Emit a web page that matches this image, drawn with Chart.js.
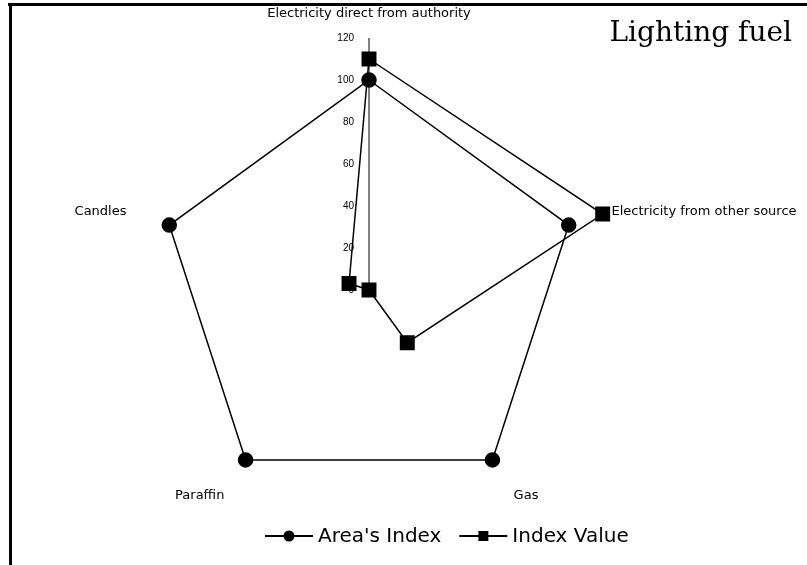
<!DOCTYPE html>
<html>
<head>
<meta charset="utf-8">
<title>Lighting fuel</title>
<script src="https://cdn.jsdelivr.net/npm/chart.js@4.4.0/dist/chart.umd.min.js"></script>
<style>
    html, body { margin: 0; padding: 0; background: #fff; }
</style>
</head>
<body>
<canvas id="lighting_fuel_chart" width="807" height="565"></canvas>
<script>
const lighting_fuel_labels = ["Electricity direct from authority", "Electricity from other source", "Gas", "Paraffin", "Candles"];
const areas_index_data = [100, 100, 100, 100, 100];
const index_value_data = [110, 117, 31, 0, 10];
const lighting_fuel_ticks = [0, 20, 40, 60, 80, 100, 120];
const lighting_fuel_title = "Lighting fuel";

// title, axis names, tick numbers, legend and the scanned frame are drawn here,
// so the radar itself keeps a fixed size
const lighting_fuel_extras =
{
    id: "lighting_fuel_extras",
    beforeDraw(chart)
    {
        const ctx = chart.ctx;
        ctx.save();
        ctx.fillStyle = "#fff";
        ctx.fillRect(0, 0, chart.width, chart.height);
        ctx.fillStyle = "#000";
        ctx.fillRect(8, 3, chart.width - 8, 3);
        ctx.fillRect(9, 3, 3, chart.height - 3);
        ctx.restore();
    },
    afterDraw(chart)
    {
        const ctx = chart.ctx;
        const r = chart.scales.r;
        ctx.save();
        ctx.fillStyle = "#000";

        // axis names round the outer ring
        ctx.font = "13px 'DejaVu Sans', sans-serif";
        const outer = r.getDistanceFromCenterForValue(r.max);
        r._pointLabels.forEach((label, i) =>
        {
            const deg = Math.round(r.getIndexAngle(i) * 180 / Math.PI) % 360;
            let gap = 3;
            if (deg === 0) gap = 18;
            else if (deg > 90 && deg < 270) gap = -6;
            const pos = r.getPointPosition(i, outer + gap);
            ctx.textAlign = (deg === 0 || deg === 180) ? "center" : (deg < 180 ? "left" : "right");
            if (deg === 0) ctx.textBaseline = "bottom";
            else if (deg > 90 && deg < 270) ctx.textBaseline = "top";
            else ctx.textBaseline = "middle";
            ctx.fillText(label, pos.x, pos.y);
        });

        ctx.font = "10px 'Liberation Sans Narrow', 'Liberation Sans', sans-serif";
        ctx.textAlign = "right";
        ctx.textBaseline = "middle";
        r.ticks.forEach(t =>
        {
            ctx.fillText(String(t.value), r.xCenter - 15, r.yCenter - r.getDistanceFromCenterForValue(t.value));
        });

        ctx.font = "28px 'DejaVu Serif', serif";
        ctx.fillText(lighting_fuel_title, 792, 34);

        ctx.font = "20px 'DejaVu Sans', sans-serif";
        ctx.textAlign = "left";
        let x = 265;
        const y = 536;
        chart.data.datasets.forEach(ds =>
        {
            ctx.strokeStyle = ds.borderColor;
            ctx.lineWidth = 2;
            ctx.beginPath();
            ctx.moveTo(x, y);
            ctx.lineTo(x + 48, y);
            ctx.stroke();
            ctx.fillStyle = ds.backgroundColor;
            if (ds.pointStyle === "rect")
            {
                ctx.fillRect(x + 24 - 5, y - 5, 10, 10);
            }
            else
            {
                ctx.beginPath();
                ctx.arc(x + 24, y, 5.5, 0, Math.PI * 2);
                ctx.fill();
            }
            ctx.fillStyle = "#000";
            ctx.fillText(ds.label, x + 53, y + 1);
            x += 53 + ctx.measureText(ds.label).width + 18;
        });
        ctx.restore();
    }
};

const lighting_fuel_chart = new Chart("lighting_fuel_chart",
{
    type: "radar",
    data:
    {
        labels: lighting_fuel_labels,
        datasets:
        [
            {
                label: "Area's Index",
                data: areas_index_data,
                borderColor: "#000",
                backgroundColor: "#000",
                pointBackgroundColor: "#000",
                pointBorderColor: "#000",
                borderWidth: 1.5,
                pointStyle: "circle",
                pointRadius: 7,
                fill: false
            },
            {
                label: "Index Value",
                data: index_value_data,
                borderColor: "#000",
                backgroundColor: "#000",
                pointBackgroundColor: "#000",
                pointBorderColor: "#000",
                borderWidth: 1.5,
                pointStyle: "rect",
                pointRadius: 9.5,
                fill: false
            }
        ]
    },
    options:
    {
        responsive: false,
        animation: false,
        layout:
        {
            padding: { top: 38, bottom: 23, left: 117, right: 186 }
        },
        plugins:
        {
            legend: { display: false },
            title: { display: false },
            tooltip: { enabled: false }
        },
        scales:
        {
            r:
            {
                min: 0,
                max: 120,
                afterBuildTicks: scale =>
                {
                    scale.ticks = lighting_fuel_ticks.map(v => ({ value: v }));
                },
                ticks: { display: false },
                grid: { display: false },
                angleLines:
                {
                    display: true,
                    lineWidth: 1,
                    color: c => c.index === 0 ? "#000" : "rgba(0,0,0,0)"
                },
                pointLabels: { display: false }
            }
        }
    },
    plugins: [lighting_fuel_extras]
});
</script>
</body>
</html>
